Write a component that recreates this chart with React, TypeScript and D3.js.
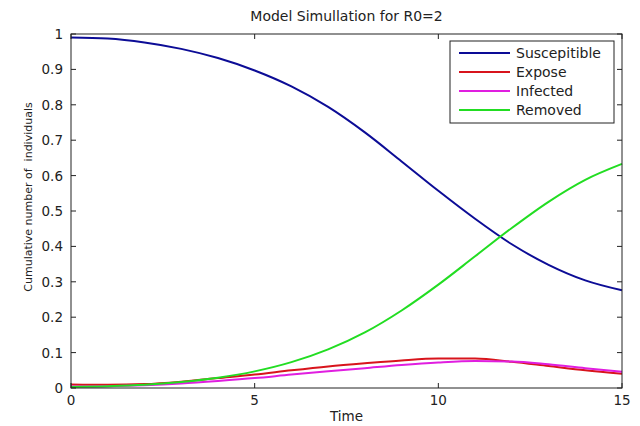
import React from "react";
import * as d3 from "d3";

const times = [0, 1, 2, 3, 4, 5, 6, 7, 8, 9, 10, 11, 12, 13, 14, 15];
const susceptible = [0.99, 0.987, 0.976, 0.958, 0.932, 0.897, 0.852, 0.794, 0.722, 0.64, 0.557, 0.478, 0.406, 0.348, 0.304, 0.276];
const expose = [0.01, 0.009, 0.011, 0.018, 0.028, 0.038, 0.05, 0.061, 0.07, 0.078, 0.083, 0.083, 0.074, 0.062, 0.05, 0.04];
const infected = [0.004, 0.005, 0.008, 0.013, 0.02, 0.028, 0.038, 0.047, 0.056, 0.065, 0.072, 0.076, 0.075, 0.067, 0.056, 0.046];
const removed = [0.003, 0.005, 0.009, 0.017, 0.029, 0.047, 0.073, 0.109, 0.157, 0.219, 0.292, 0.372, 0.452, 0.526, 0.588, 0.633];

const seriesNames = ["Suscepitible", "Expose", "Infected", "Removed"];
const seriesValues = [susceptible, expose, infected, removed];
const seriesColors = ["#0c0c96", "#d8141c", "#e01ee0", "#22dd22"];

const xTicks = [0, 5, 10, 15];
const yTicks = [0, 0.1, 0.2, 0.3, 0.4, 0.5, 0.6, 0.7, 0.8, 0.9, 1];

const W = 640;
const H = 426;
const left = 71;
const right = 622;
const top = 34;
const bottom = 388;
const FONT = "'DejaVu Sans', sans-serif";

export default function App() {
  const x = d3.scaleLinear().domain([0, 15]).range([left, right]);
  const y = d3.scaleLinear().domain([0, 1]).range([bottom, top]);
  const line = d3
    .line<number>()
    .x((_, i) => x(times[i]))
    .y((d) => y(d))
    .curve(d3.curveMonotoneX);

  const legX = 450;
  const legY = 41;
  const legW = 164;
  const legH = 82;
  const rowY = [53, 72, 91, 110];

  return (
    <svg
      width={W}
      height={H}
      style={{ position: "absolute", left: 0, top: 0, background: "#fff" }}
    >
      <rect x={0} y={0} width={W} height={H} fill="#fff" />
      <rect x={left} y={top} width={right - left} height={bottom - top} fill="#fff" />
      {seriesValues.map((vals, i) => (
        <path
          key={seriesNames[i]}
          d={line(vals) || ""}
          fill="none"
          stroke={seriesColors[i]}
          strokeWidth={2}
        />
      ))}
      <rect x={left} y={top} width={right - left} height={bottom - top} fill="none" stroke="#222" strokeWidth={1} />
      {xTicks.map((t) => (
        <g key={"x" + t}>
          <line x1={x(t)} x2={x(t)} y1={bottom} y2={bottom - 5} stroke="#222" />
          <line x1={x(t)} x2={x(t)} y1={top} y2={top + 5} stroke="#222" />
          <text x={x(t)} y={bottom + 17} textAnchor="middle" fontFamily={FONT} fontSize={13.5} fill="#222">
            {t}
          </text>
        </g>
      ))}
      {yTicks.map((t) => (
        <g key={"y" + t}>
          <line x1={left} x2={left + 5} y1={y(t)} y2={y(t)} stroke="#222" />
          <line x1={right} x2={right - 5} y1={y(t)} y2={y(t)} stroke="#222" />
          <text x={left - 8} y={y(t) + 5} textAnchor="end" fontFamily={FONT} fontSize={13.5} fill="#222">
            {d3.format("~g")(t)}
          </text>
        </g>
      ))}
      <text x={(left + right) / 2} y={421} textAnchor="middle" fontFamily={FONT} fontSize={13.5} fill="#222">
        Time
      </text>
      <text
        transform={`translate(32,197) rotate(-90)`}
        textAnchor="middle"
        fontFamily={FONT}
        fontSize={11}
        fill="#222"
        style={{ whiteSpace: "pre" }}
      >
        {"Cumulative number of  individuals"}
      </text>
      <text x={(left + right) / 2} y={21} textAnchor="middle" fontFamily={FONT} fontSize={14} fill="#222">
        Model Simullation for R0=2
      </text>
      <rect x={legX} y={legY} width={legW} height={legH} fill="#fff" stroke="#222" strokeWidth={1} />
      {seriesNames.map((n, i) => (
        <g key={"leg" + n}>
          <line x1={459} x2={510} y1={rowY[i]} y2={rowY[i]} stroke={seriesColors[i]} strokeWidth={2} />
          <text x={516} y={rowY[i] + 5} fontFamily={FONT} fontSize={14} fill="#222">
            {n}
          </text>
        </g>
      ))}
    </svg>
  );
}
